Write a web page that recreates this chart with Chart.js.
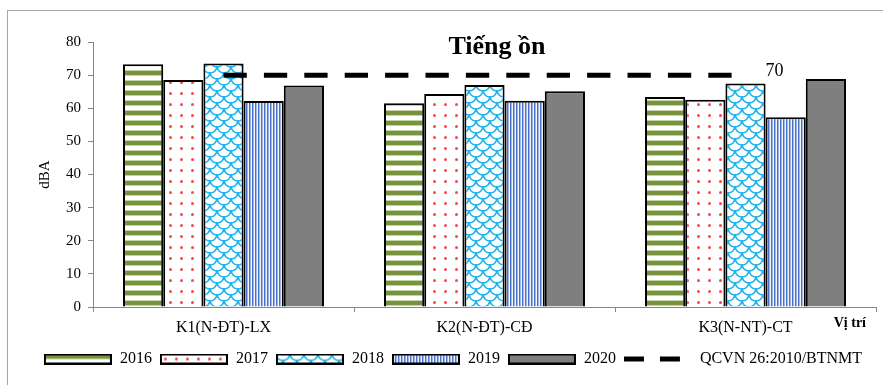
<!DOCTYPE html>
<html lang="vi">
<head>
<meta charset="utf-8">
<title>Tiếng ồn</title>
<script src="https://cdn.jsdelivr.net/npm/chart.js@4.4.1/dist/chart.umd.min.js"></script>
<style>
    html, body { margin: 0; padding: 0; background: #ffffff; }
    #grafico_ruido { display: block; }
</style>
</head>
<body>
<canvas id="grafico_ruido" width="883" height="385"></canvas>
<script>

//***********************
//Dados
//***********************
const categorias = ['K1(N-ĐT)-LX', 'K2(N-ĐT)-CĐ', 'K3(N-NT)-CT'];
const anos = ['2016', '2017', '2018', '2019', '2020'];

const valores_2016 = [73.3, 61.5, 63.4];
const valores_2017 = [68.5, 64.3, 62.6];
const valores_2018 = [73.5, 67.0, 67.5];
const valores_2019 = [62.2, 62.3, 57.3];
const valores_2020 = [66.9, 65.1, 68.8];

//Limite da norma (linha tracejada)
const limite_qcvn = [70, 70, 70];
const rotulo_limite = 'QCVN 26:2010/BTNMT';

const titulo = 'Tiếng ồn';
const titulo_eixo_x = 'Vị trí';
const titulo_eixo_y = 'dBA';

const FONTE = '"Liberation Serif", "Times New Roman", serif';


const canvas = document.getElementById('grafico_ruido');
const ctx = canvas.getContext('2d');


function criar_canvas(largura, altura){
    const c = document.createElement('canvas');
    c.width = largura;
    c.height = altura;
    return c;
}


//***********************
//Texturas das barras
//***********************

//2016 - listras horizontais verdes
function textura_listras_verdes(){
    const c = criar_canvas(4, 10);
    const g = c.getContext('2d');
    g.fillStyle = '#ffffff';
    g.fillRect(0, 0, 4, 10);
    g.fillStyle = '#c4d3a5';
    g.fillRect(0, 0, 4, 1);
    g.fillRect(0, 5, 4, 1);
    g.fillStyle = '#77933c';
    g.fillRect(0, 1, 4, 4);
    return c;
}

//2017 - pontos vermelhos
function textura_pontos(){
    const c = criar_canvas(11, 11);
    const g = c.getContext('2d');
    g.fillStyle = '#ffffff';
    g.fillRect(0, 0, 11, 11);
    g.fillStyle = '#f54848';
    g.beginPath();
    g.arc(5.5, 5.5, 1.5, 0, Math.PI * 2);
    g.fill();
    return c;
}

//2018 - escamas azul claro
function textura_escamas(){
    const c = criar_canvas(14, 12);
    const g = c.getContext('2d');
    g.fillStyle = '#ffffff';
    g.fillRect(0, 0, 14, 12);
    g.strokeStyle = '#1db4ec';
    g.lineWidth = 1.6;
    const centros = [[7, -12], [7, 0], [7, 12], [0, -6], [14, -6], [0, 6], [14, 6]];
    centros.forEach(([cx, cy]) => {
        g.beginPath();
        g.arc(cx, cy, 7, 0, Math.PI);
        g.stroke();
    });
    return c;
}

//2019 - listras verticais azuis
function textura_listras_azuis(){
    const c = criar_canvas(3, 4);
    const g = c.getContext('2d');
    g.fillStyle = '#4a72c4';
    g.fillRect(0, 0, 1, 4);
    g.fillStyle = '#9fb6e6';
    g.fillRect(1, 0, 1, 4);
    g.fillStyle = '#f2f5fc';
    g.fillRect(2, 0, 1, 4);
    return c;
}

const preenchimentos = [
    ctx.createPattern(textura_listras_verdes(), 'repeat'),
    ctx.createPattern(textura_pontos(), 'repeat'),
    ctx.createPattern(textura_escamas(), 'repeat'),
    ctx.createPattern(textura_listras_azuis(), 'repeat'),
    '#7f7f7f'
];


//***********************
//Ícones da legenda
//***********************
function icone_barra(preenchimento){
    const c = criar_canvas(68, 11);
    const g = c.getContext('2d');
    g.fillStyle = preenchimento;
    g.fillRect(0, 0, 68, 11);
    g.strokeStyle = '#000000';
    g.lineWidth = 2;
    g.strokeRect(1, 1, 66, 9);
    return c;
}

function icone_linha(){
    const c = criar_canvas(68, 11);
    const g = c.getContext('2d');
    g.fillStyle = '#000000';
    g.fillRect(0, 3, 20, 5);
    g.fillRect(36, 3, 20, 5);
    return c;
}

const icones_legenda = preenchimentos.map(p => icone_barra(p));
icones_legenda.push(icone_linha());


//***********************
//Textos extras: moldura, título, rótulo do limite e "Vị trí"
//***********************
const plugin_extras = {
    id: 'extras',

    beforeDraw(chart){
        const c = chart.ctx;
        c.save();
        c.fillStyle = '#ffffff';
        c.fillRect(0, 0, chart.width, chart.height);
        c.strokeStyle = '#a6a6a6';
        c.lineWidth = 1;
        c.strokeRect(7.5, 10.5, chart.width + 10, chart.height + 10);
        c.restore();
    },

    afterDatasetsDraw(chart){
        const meta = chart.getDatasetMeta(5);
        const ultimo = meta.data[meta.data.length - 1];
        const c = chart.ctx;
        c.save();
        c.fillStyle = '#000000';
        c.font = '18px ' + FONTE;
        c.textAlign = 'left';
        c.textBaseline = 'alphabetic';
        c.fillText(String(limite_qcvn[limite_qcvn.length - 1]), ultimo.x + 20, ultimo.y + 1);
        c.restore();
    },

    afterDraw(chart){
        const c = chart.ctx;
        c.save();
        c.fillStyle = '#000000';
        c.textBaseline = 'alphabetic';

        c.font = 'bold 26px ' + FONTE;
        c.textAlign = 'center';
        c.fillText(titulo, 497, 54);

        c.font = 'bold 14px ' + FONTE;
        c.textAlign = 'right';
        c.fillText(titulo_eixo_x, 866, 327);
        c.restore();
    }
};


//***********************
//Gráfico
//***********************
const series_barras = [valores_2016, valores_2017, valores_2018, valores_2019, valores_2020];

const datasets = series_barras.map((valores, i) => ({
    type: 'bar',
    label: anos[i],
    data: valores,
    backgroundColor: preenchimentos[i],
    borderColor: '#000000',
    borderWidth: 2,
    categoryPercentage: 0.77,
    barPercentage: 1.0,
    order: 1
}));

datasets.push({
    type: 'line',
    label: rotulo_limite,
    data: limite_qcvn,
    borderColor: '#000000',
    backgroundColor: '#000000',
    borderWidth: 5,
    borderDash: [23.3, 17.1],
    borderCapStyle: 'butt',
    pointRadius: 0,
    fill: false,
    order: -1
});


const grafico = new Chart(ctx, {
    type: 'bar',
    data: {
        labels: categorias,
        datasets: datasets
    },
    options: {
        responsive: false,
        animation: false,
        layout: {
            padding: { left: 30, right: 7, top: 42, bottom: 8 }
        },
        plugins: {
            title: { display: false },
            tooltip: { enabled: false },
            legend: {
                position: 'bottom',
                labels: {
                    usePointStyle: true,
                    pointStyleWidth: 68,
                    boxHeight: 11,
                    padding: 8,
                    color: '#000000',
                    font: { family: FONTE, size: 16 },
                    sort: (a, b) => a.datasetIndex - b.datasetIndex,
                    generateLabels(chart){
                        const itens = Chart.defaults.plugins.legend.labels.generateLabels(chart);
                        itens.forEach(item => {
                            item.pointStyle = icones_legenda[item.datasetIndex];
                        });
                        return itens;
                    }
                }
            }
        },
        scales: {
            x: {
                offset: true,
                ticks: {
                    color: '#000000',
                    font: { family: FONTE, size: 16 },
                    padding: 6
                },
                grid: {
                    offset: true,
                    drawOnChartArea: false,
                    tickLength: 5,
                    color: '#868686'
                },
                border: { color: '#868686' },
                afterFit(scale){ scale.height = 36; }
            },
            y: {
                min: 0,
                max: 80,
                ticks: {
                    stepSize: 10,
                    color: '#000000',
                    font: { family: FONTE, size: 15 },
                    padding: 7
                },
                grid: {
                    drawOnChartArea: false,
                    tickLength: 5,
                    color: '#868686'
                },
                border: { color: '#868686' },
                title: {
                    display: true,
                    text: titulo_eixo_y,
                    color: '#000000',
                    font: { family: FONTE, size: 15 },
                    padding: { top: 6, bottom: 0 }
                },
                afterFit(scale){ scale.width = 63; }
            }
        }
    },
    plugins: [plugin_extras]
});

</script>
</body>
</html>
